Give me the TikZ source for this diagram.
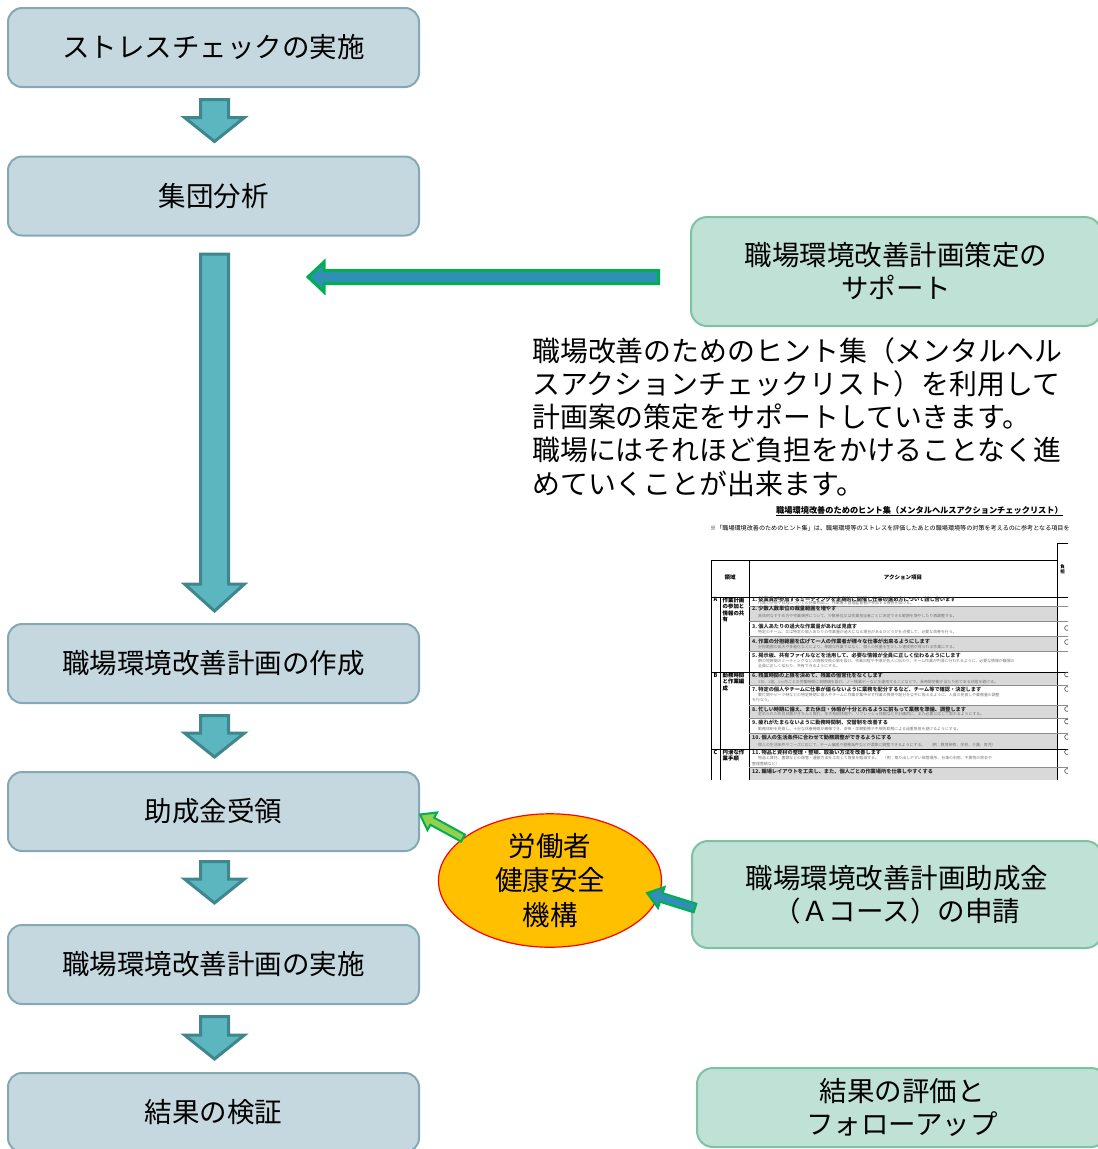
\documentclass[tikz,border=0pt]{standalone}
\usepackage{fontspec}
\setmainfont{Noto Sans CJK JP}
\usetikzlibrary{calc,shapes.geometric}
\definecolor{lbfill}{HTML}{C5D8E0}
\definecolor{lbdraw}{HTML}{84A9B5}
\definecolor{rbfill}{HTML}{C0E1D5}
\definecolor{rbdraw}{HTML}{7DC2A5}
\definecolor{arrfill}{HTML}{5BB6C0}
\definecolor{arrdraw}{HTML}{3F878D}
\definecolor{hfill}{HTML}{2F8FB5}
\definecolor{gborder}{HTML}{00B050}
\definecolor{lgfill}{HTML}{92D050}
\definecolor{ellfill}{HTML}{FFC000}
% #1 style, #2 tail, #3 tip, #4 shaft half width, #5 head half width, #6 head length
\newcommand\blockarrow[6]{%
  \path ($(#3)!#6!(#2)$) coordinate (baH);
  \draw[#1] ($(#2)!#4!90:(#3)$) -- ($(baH)!#4!-90:(#2)$) -- ($(baH)!#5!-90:(#2)$) -- (#3)
    -- ($(baH)!#5!90:(#2)$) -- ($(baH)!#4!90:(#2)$) -- ($(#2)!#4!-90:(#3)$) -- cycle;}
\tikzset{
  lbox/.style={draw=lbdraw, fill=lbfill, line width=2pt, rounded corners=14pt,
    minimum width=411pt, minimum height=79pt, inner sep=0pt,
    font=\fontsize{27.5}{33}\selectfont},
  rbox/.style={draw=rbdraw, fill=rbfill, line width=2pt, rounded corners=16pt,
    minimum width=410pt, inner sep=0pt, align=center,
    font=\fontsize{27.5}{33}\selectfont},
  downarr/.style={fill=arrfill, draw=arrdraw, line width=3pt, line join=miter},
  horarr/.style={fill=hfill, draw=gborder, line width=3pt, line join=miter},
  grarr/.style={fill=lgfill, draw=gborder, line width=2pt, line join=miter},
  blarr/.style={fill=hfill, draw=gborder, line width=2pt, line join=miter},
  ttl/.style={anchor=west, inner sep=0pt, font=\fontsize{5.2}{6}\selectfont\bfseries, text=black!85},
  tsub/.style={anchor=west, inner sep=0pt, font=\fontsize{3.9}{4.5}\selectfont, text=black!55},
  grp/.style={anchor=north west, inner sep=0pt, align=left, font=\fontsize{5.4}{6.5}\selectfont\bfseries},
}
\begin{document}
\begin{tikzpicture}[x=1pt, y=-1pt]
\useasboundingbox (0,0) rectangle (1098,1149);
\clip (0,0) rectangle (1098,1149);

% left flow boxes
\node[lbox] (b1) at (213.5,47.5) {ストレスチェックの実施};
\node[lbox] (b2) at (213.5,196) {集団分析};
\node[lbox] (b3) at (213.5,663.5) {職場環境改善計画の作成};
\node[lbox] (b4) at (213.5,811.5) {助成金受領};
\node[lbox] (b5) at (213.5,964.5) {職場環境改善計画の実施};
\node[lbox] (b6) at (213.5,1112.5) {結果の検証};

% right boxes
\node[rbox, minimum height=109pt] (rb1) at (896,271.5) {職場環境改善計画策定の\\サポート};
\node[rbox, minimum height=107pt] (rb2) at (897,894.5) {職場環境改善計画助成金\\（Ａコース）の申請};
\node[rbox, minimum height=79pt] (rb3) at (902,1107.5) {結果の評価と\\フォローアップ};

% ellipse
\node[ellipse, draw=red, line width=1.2pt, fill=ellfill, minimum width=223pt, minimum height=118pt,
  inner sep=0pt, align=center, font=\fontsize{27.5}{34.5}\selectfont] (jh) at (550,880.5) {労働者\\健康安全\\機構};

% description text
\node[anchor=north west, inner sep=0pt, align=left, font=\fontsize{27.9}{33.3}\selectfont] (hint) at (532,337)
 {職場改善のためのヒント集（メンタルヘル\\スアクションチェックリスト）を利用して\\計画案の策定をサポートしていきます。\\職場にはそれほど負担をかけることなく進\\めていくことが出来ます。};

% down block arrows
\coordinate (a1s) at ($(b1.south)+(1,11.5)$);
\coordinate (a1e) at ($(b2.north)+(1,-14)$);
\blockarrow{downarr}{a1s}{a1e}{14pt}{30pt}{24pt}
\coordinate (a2s) at ($(b2.south)+(1,17.5)$);
\coordinate (a2e) at ($(b3.north)+(1,-12)$);
\blockarrow{downarr}{a2s}{a2e}{14pt}{30pt}{27pt}
\coordinate (a3s) at ($(b3.south)+(1,11.5)$);
\coordinate (a3e) at ($(b4.north)+(1,-14)$);
\blockarrow{downarr}{a3s}{a3e}{14pt}{30pt}{24pt}
\coordinate (a4s) at ($(b4.south)+(1,9.5)$);
\coordinate (a4e) at ($(b5.north)+(1,-21)$);
\blockarrow{downarr}{a4s}{a4e}{14pt}{30pt}{24pt}
\coordinate (a5s) at ($(b5.south)+(1,11.5)$);
\coordinate (a5e) at ($(b6.north)+(1,-13)$);
\blockarrow{downarr}{a5s}{a5e}{14pt}{30pt}{24pt}

% horizontal arrow from support box
\coordinate (hs) at ($(rb1.west)+(-31.5,5.5)$);
\coordinate (he) at (308,277);
\blockarrow{horarr}{hs}{he}{6.5pt}{15pt}{16pt}

% green arrows around the ellipse
\coordinate (gas) at (jh.154);
\coordinate (gae) at ($(b4.east)+(0,3)$);
\blockarrow{grarr}{gas}{gae}{4pt}{10pt}{14pt}
\coordinate (gbs) at ($(rb2.west)+(4,13.5)$);
\coordinate (gbe) at (647,893);
\blockarrow{blarr}{gbs}{gbe}{4.5pt}{11pt}{15pt}

% thumbnail of the checklist
\begin{scope}
\clip (705,500) rectangle (1068,779);
\node[inner sep=0pt, font=\fontsize{8.2}{9}\selectfont\bfseries] (ctitle) at (919.5,511)
  {\underline{職場環境改善のためのヒント集（メンタルヘルスアクションチェックリスト）}};
\node[anchor=west, inner sep=0pt, font=\fontsize{6.1}{7}\selectfont] (cnote) at (710,528)
  {※「職場環境改善のためのヒント集」は、職場環境等のストレスを評価したあとの職場環境等の対策を考えるのに参考となる項目をま};
\foreach \a/\b in {606/621,636/651,672/685,705/718,733/749,767/790}
  \fill[black!15] (749,\a) rectangle (1057,\b);
\draw[line width=0.9pt] (711,560) -- (1057,560);
\draw[line width=0.9pt] (1057,543) -- (1070,543);
\draw[line width=0.9pt] (711,560) -- (711,790);
\draw[line width=0.9pt] (749,560) -- (749,790);
\draw[line width=0.9pt] (1057,543) -- (1057,790);
\draw[line width=0.6pt] (720,597) -- (720,790);
\draw[line width=0.9pt] (711,597) -- (1070,597);
\draw[line width=0.9pt] (711,672) -- (1070,672);
\draw[line width=0.9pt] (711,749) -- (1070,749);
\foreach \y in {606,621,636,651,685,705,718,733,767}
  \draw[line width=0.3pt, black!45] (749,\y) -- (1070,\y);
\foreach \y in {628,642,674.5,689,709,721.5,737,752,771}
  \draw[line width=0.6pt, black!70] (1067,\y) circle (2.4);
\node[inner sep=0pt, font=\fontsize{5.5}{6}\selectfont\bfseries] (hd1) at (730,577) {領域};
\node[inner sep=0pt, font=\fontsize{5.5}{6}\selectfont\bfseries] (hd2) at (903,577) {アクション項目};
\node[inner sep=0pt, align=center, font=\fontsize{4.5}{5}\selectfont\bfseries] (hd3) at (1062.5,569) {負\\担};
\node[inner sep=0pt, font=\fontsize{5.5}{6}\selectfont\bfseries] (la) at (715.5,599.5) {A};
\node[inner sep=0pt, font=\fontsize{5.5}{6}\selectfont\bfseries] (lb) at (715.5,675) {B};
\node[inner sep=0pt, font=\fontsize{5.5}{6}\selectfont\bfseries] (lc) at (715.5,752) {C};
\node[grp] (ga) at (722.5,597.5) {作業計画\\の参加と\\情報の共\\有};
\node[grp] (gb) at (722.5,672.5) {勤務時間\\と作業編\\成};
\node[grp] (gc) at (722.5,749.5) {円滑な作\\業手順};
\node[ttl] (t1) at (752,599.3) {1.\ 従業員が参加するミーティングを定期的に開催し仕事の進め方について話し合います};
\node[tsub] (s1) at (758,603.5) {作業の分担や日程についての計画作成に、作業者と管理監督者が参加する機会を設ける。};
\node[ttl] (t2) at (752,609) {2.\ 少数人数単位の裁量範囲を増やす};
\node[tsub] (s2) at (758,616.5) {具体的なすすめ方や作業順序について、少数単位又は作業担当者ごとに決定できる範囲を増やしたり再調整する。};
\node[ttl] (t3) at (752,626.5) {3.\ 個人あたりの過大な作業量があれば見直す};
\node[tsub] (s3) at (758,632) {特定のチーム、又は特定の個人あたりの作業量が過大になる場合があるかどうかを点検して、必要な改善を行う。};
\node[ttl] (t4) at (752,641) {4.\ 作業の分担範囲を広げて一人の作業者が様々な仕事が出来るようにします};
\node[tsub] (s4) at (758,646.7) {分担範囲の拡大や多能化などにより、単調な作業ではなく、個人の技量を生かした達成感が得られる作業にする。};
\node[ttl] (t5) at (752,655) {5.\ 掲示板、共有ファイルなどを活用して、必要な情報が全員に正しく伝わるようにします};
\node[tsub] (s5) at (758,661) {朝の短時間のミーティングなどの情報交換の場を設け、作業日程や手順が各人に伝わり、チーム作業が円滑に行われるように、必要な情報が職場の};
\node[tsub] (s5b) at (758,666.5) {全員に正しく伝わり、共有できるようにする。};
\node[ttl] (t6) at (752,675) {6.\ 残業時間の上限を決めて、残業の恒常化をなくします};
\node[tsub] (s6) at (758,681.5) {1日、1週、1ヵ月ごとの労働時間に目標値を設け、ノー残業デーなどを運用することなどで、長時間労働が当たり前である状態を避ける。};
\node[ttl] (t7) at (752,689) {7.\ 特定の個人やチームに仕事が偏らないように業務を配分するなど、チーム等で確認・決定します};
\node[tsub] (s7) at (758,695) {繁忙期やピーク時などの特定時期に個人やチームに作業が集中せず作業の負荷や配分を公平に扱えるように、人員の見直しや業務量の調整};
\node[tsub] (s7b) at (752,700.5) {を行なう。};
\node[ttl] (t8) at (752,709) {8.\ 忙しい時期に備え、また休日・休暇が十分とれるように前もって業務を準備、調整します};
\node[tsub] (s8) at (758,714.5) {定められた休日日数がきちんと取れ、年次有給休暇や、リフレッシュ休暇などが計画的に、また必要に応じて取れるようにする。};
\node[ttl] (t9) at (752,722) {9.\ 疲れがたまらないように勤務時間制、交替制を改善する};
\node[tsub] (s9) at (758,729) {勤務体制を見直し、十分な休養時間が確保でき、深夜・早朝勤務や不規則勤務による過重負担を避けるようにする。};
\node[ttl] (t10) at (752,737.5) {10.\ 個人の生活条件に合わせて勤務調整ができるようにする};
\node[tsub] (s10) at (758,745) {個人の生活条件やニーズに応じて、チーム編成や勤務条件などが柔軟に調整できるようにする。　（例：教育研修、学校、介護、育児）};
\node[ttl] (t11) at (752,752.5) {11.\ 物品と資材の整理・整頓、取扱い方法を改善します};
\node[tsub] (s11) at (758,758.5) {物品と資材、書類などの保管・運搬方法を工夫して負担を軽減する。　（例：取り出しやすい保管場所、台車の利用、不要物の除去や};
\node[tsub] (s11b) at (752,764) {整理整頓など）};
\node[ttl] (t12) at (752,771.5) {12.\ 職場レイアウトを工夫し、また、個人ごとの作業場所を仕事しやすくする};
\end{scope}
\end{tikzpicture}
\end{document}
